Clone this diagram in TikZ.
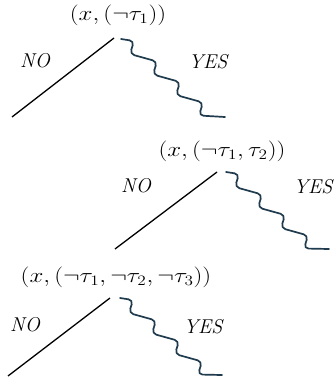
\documentclass[tikz,border=0pt]{standalone}
\usepackage{graphicx}
\definecolor{wavecol}{HTML}{1F3B4D}
\tikzset{
  lbl/.style={inner sep=0pt, font=\fontsize{21}{25}\selectfont},
  ans/.style={inner sep=0pt, font=\fontsize{20}{24}\selectfont\itshape},
  noline/.style={draw=black, line width=1.3pt},
  wave/.style={draw=wavecol, line width=1.7pt, line cap=round, rounded corners=4.5pt,
    to path={
      -- ++(13,2) -- ++(-4,13)
      -- ++(27,7.5) -- ++(-4,13)
      -- ++(27,7.5) -- ++(-4,13)
      -- ++(27,7.5) -- ++(-4,13)
      -- (\tikztotarget)}}
}
\begin{document}
\begin{tikzpicture}[x=1pt,y=-1pt]
\useasboundingbox (0,0) rectangle (334,385);
% block 1
\node[lbl] (l1) at (118,15) {\scalebox{1.2}[1]{$(x,(\neg\tau_1))$}};
\node[ans] (no1) at (35,61) {NO};
\node[ans] (yes1) at (208,62) {YES};
\coordinate (a1) at (12,117);
\coordinate (b1) at (114,38);
\coordinate (w1a) at (121,39);
\coordinate (w1b) at (225,117);
\draw[noline] (a1) -- (b1);
\draw[wave] (w1a) to (w1b);
% block 2
\node[lbl] (l2) at (222,151) {\scalebox{1.2}[1]{$(x,(\neg\tau_1,\tau_2))$}};
\node[ans] (no2) at (136,186) {NO};
\node[ans] (yes2) at (313,187) {YES};
\coordinate (a2) at (115,249);
\coordinate (b2) at (217,172);
\coordinate (w2a) at (226,172);
\coordinate (w2b) at (329,249);
\draw[noline] (a2) -- (b2);
\draw[wave] (w2a) to (w2b);
% block 3
\node[lbl] (l3) at (116,277) {\scalebox{1.2}[1]{$(x,(\neg\tau_1,\neg\tau_2,\neg\tau_3))$}};
\node[ans] (no3) at (25,325) {NO};
\node[ans] (yes3) at (203,327) {YES};
\coordinate (a3) at (8,376);
\coordinate (b3) at (110,298);
\coordinate (w3a) at (120,298);
\coordinate (w3b) at (222,375);
\draw[noline] (a3) -- (b3);
\draw[wave] (w3a) to (w3b);
\end{tikzpicture}
\end{document}
